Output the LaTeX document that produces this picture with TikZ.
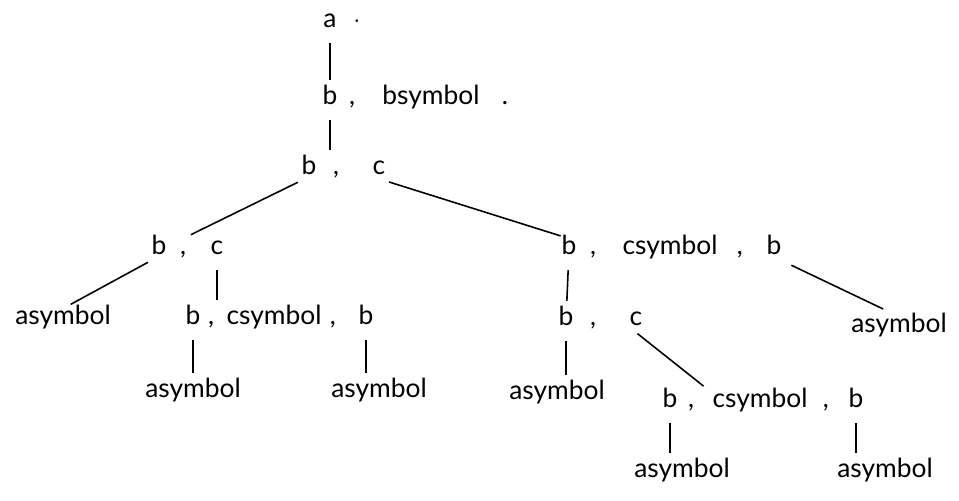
\documentclass[tikz,border=0pt]{standalone}
\usepackage{fontspec}
\setmainfont{Lato}
\usepackage{tikz}
\usetikzlibrary{positioning}
\tikzstyle{every node}=[font=\fontsize{15}{18}\selectfont, inner sep=1pt, text height=1.6ex, text depth=.5ex]
\tikzstyle{branch}=[line width=.9pt, shorten <=5pt, shorten >=5pt]

\begin{document}
\begin{tikzpicture}[x=0.02cm, y=-0.02cm]
            \useasboundingbox (0,0) rectangle (959,500);
            % top of the tree
            \node (a0) at (330,23) {a};
            \node[right of=a0, node distance=.54cm] (a0dot) {$\cdot$};
            \node (r1b) at (330,100) {b};
            \node[right of=r1b, node distance=.44cm] (r1com) {,};
            \node[right of=r1b, node distance=2.02cm] (r1bs) {bsymbol};
            \node[right of=r1bs, node distance=1.48cm] (r1dot) {.};
            \node (r2b) at (309,170) {b};
            \node[right of=r2b, node distance=.54cm] (r2com) {,};
            \node[right of=r2b, node distance=1.4cm] (r2c) {c};
            % left branch
            \node (l3b) at (159,250) {b};
            \node[right of=l3b, node distance=.48cm] (l3com) {,};
            \node[right of=l3b, node distance=1.16cm] (l3c) {c};
            \node (l4a) at (63,320) {asymbol};
            \node (m4b) at (193,320) {b};
            \node[right of=m4b, node distance=.36cm] (m4com1) {,};
            \node[right of=m4b, node distance=1.62cm] (m4cs) {csymbol};
            \node[right of=m4cs, node distance=1.18cm] (m4com2) {,};
            \node[right of=m4com2, node distance=.66cm] (m4b2) {b};
            \node (m5a1) at (193,393) {asymbol};
            \node (m5a2) at (379,393) {asymbol};
            % right branch
            \node (r3b) at (569,250) {b};
            \node[right of=r3b, node distance=.48cm] (r3com1) {,};
            \node[right of=r3b, node distance=2.02cm] (r3cs) {csymbol};
            \node[right of=r3cs, node distance=1.4cm] (r3com2) {,};
            \node[right of=r3com2, node distance=.68cm] (r3b2) {b};
            \node (r4a) at (899,328) {asymbol};
            \node (r4b) at (566,321) {b};
            \node[right of=r4b, node distance=.54cm] (r4com) {,};
            \node[right of=r4b, node distance=1.4cm] (r4c) {c};
            \node (r5a) at (557,395) {asymbol};
            \node (r5b) at (670,403) {b};
            \node[right of=r5b, node distance=.42cm] (r5com1) {,};
            \node[right of=r5b, node distance=1.8cm] (r5cs) {csymbol};
            \node[right of=r5cs, node distance=1.32cm] (r5com2) {,};
            \node[right of=r5com2, node distance=.6cm] (r5b2) {b};
            \node (r6a1) at (682,473) {asymbol};
            \node (r6a2) at (885,473) {asymbol};

            \draw[branch] (a0) -- (r1b);
            \draw[branch] (r1b) -- (r1b |- r2b.north);
            \draw[branch, shorten <=1pt] (r2b.south west) -- (l3com.north);
            \draw[branch, shorten <=1pt] (r2c.south east) -- (r3b.north);
            \draw[branch, shorten <=1pt] (l3b.south west) -- (l4a.north);
            \draw[branch] (l3c) -- (l3c |- m4cs.north);
            \draw[branch] (m4b) -- (m5a1);
            \draw[branch] (m4b2) -- (m4b2 |- m5a2.north);
            \draw[branch] (r3b) -- (r4b);
            \draw[branch, shorten >=10pt] (r3b2.south east) -- (r4a.north);
            \draw[branch] (r4b) -- (r4b |- r5a.north);
            \draw[branch, shorten <=1pt] (r4c.south) -- (r5cs.north west);
            \draw[branch] (r5b) -- (r5b |- r6a1.north);
            \draw[branch] (r5b2) -- (r5b2 |- r6a2.north);
        \end{tikzpicture}
\end{document}
